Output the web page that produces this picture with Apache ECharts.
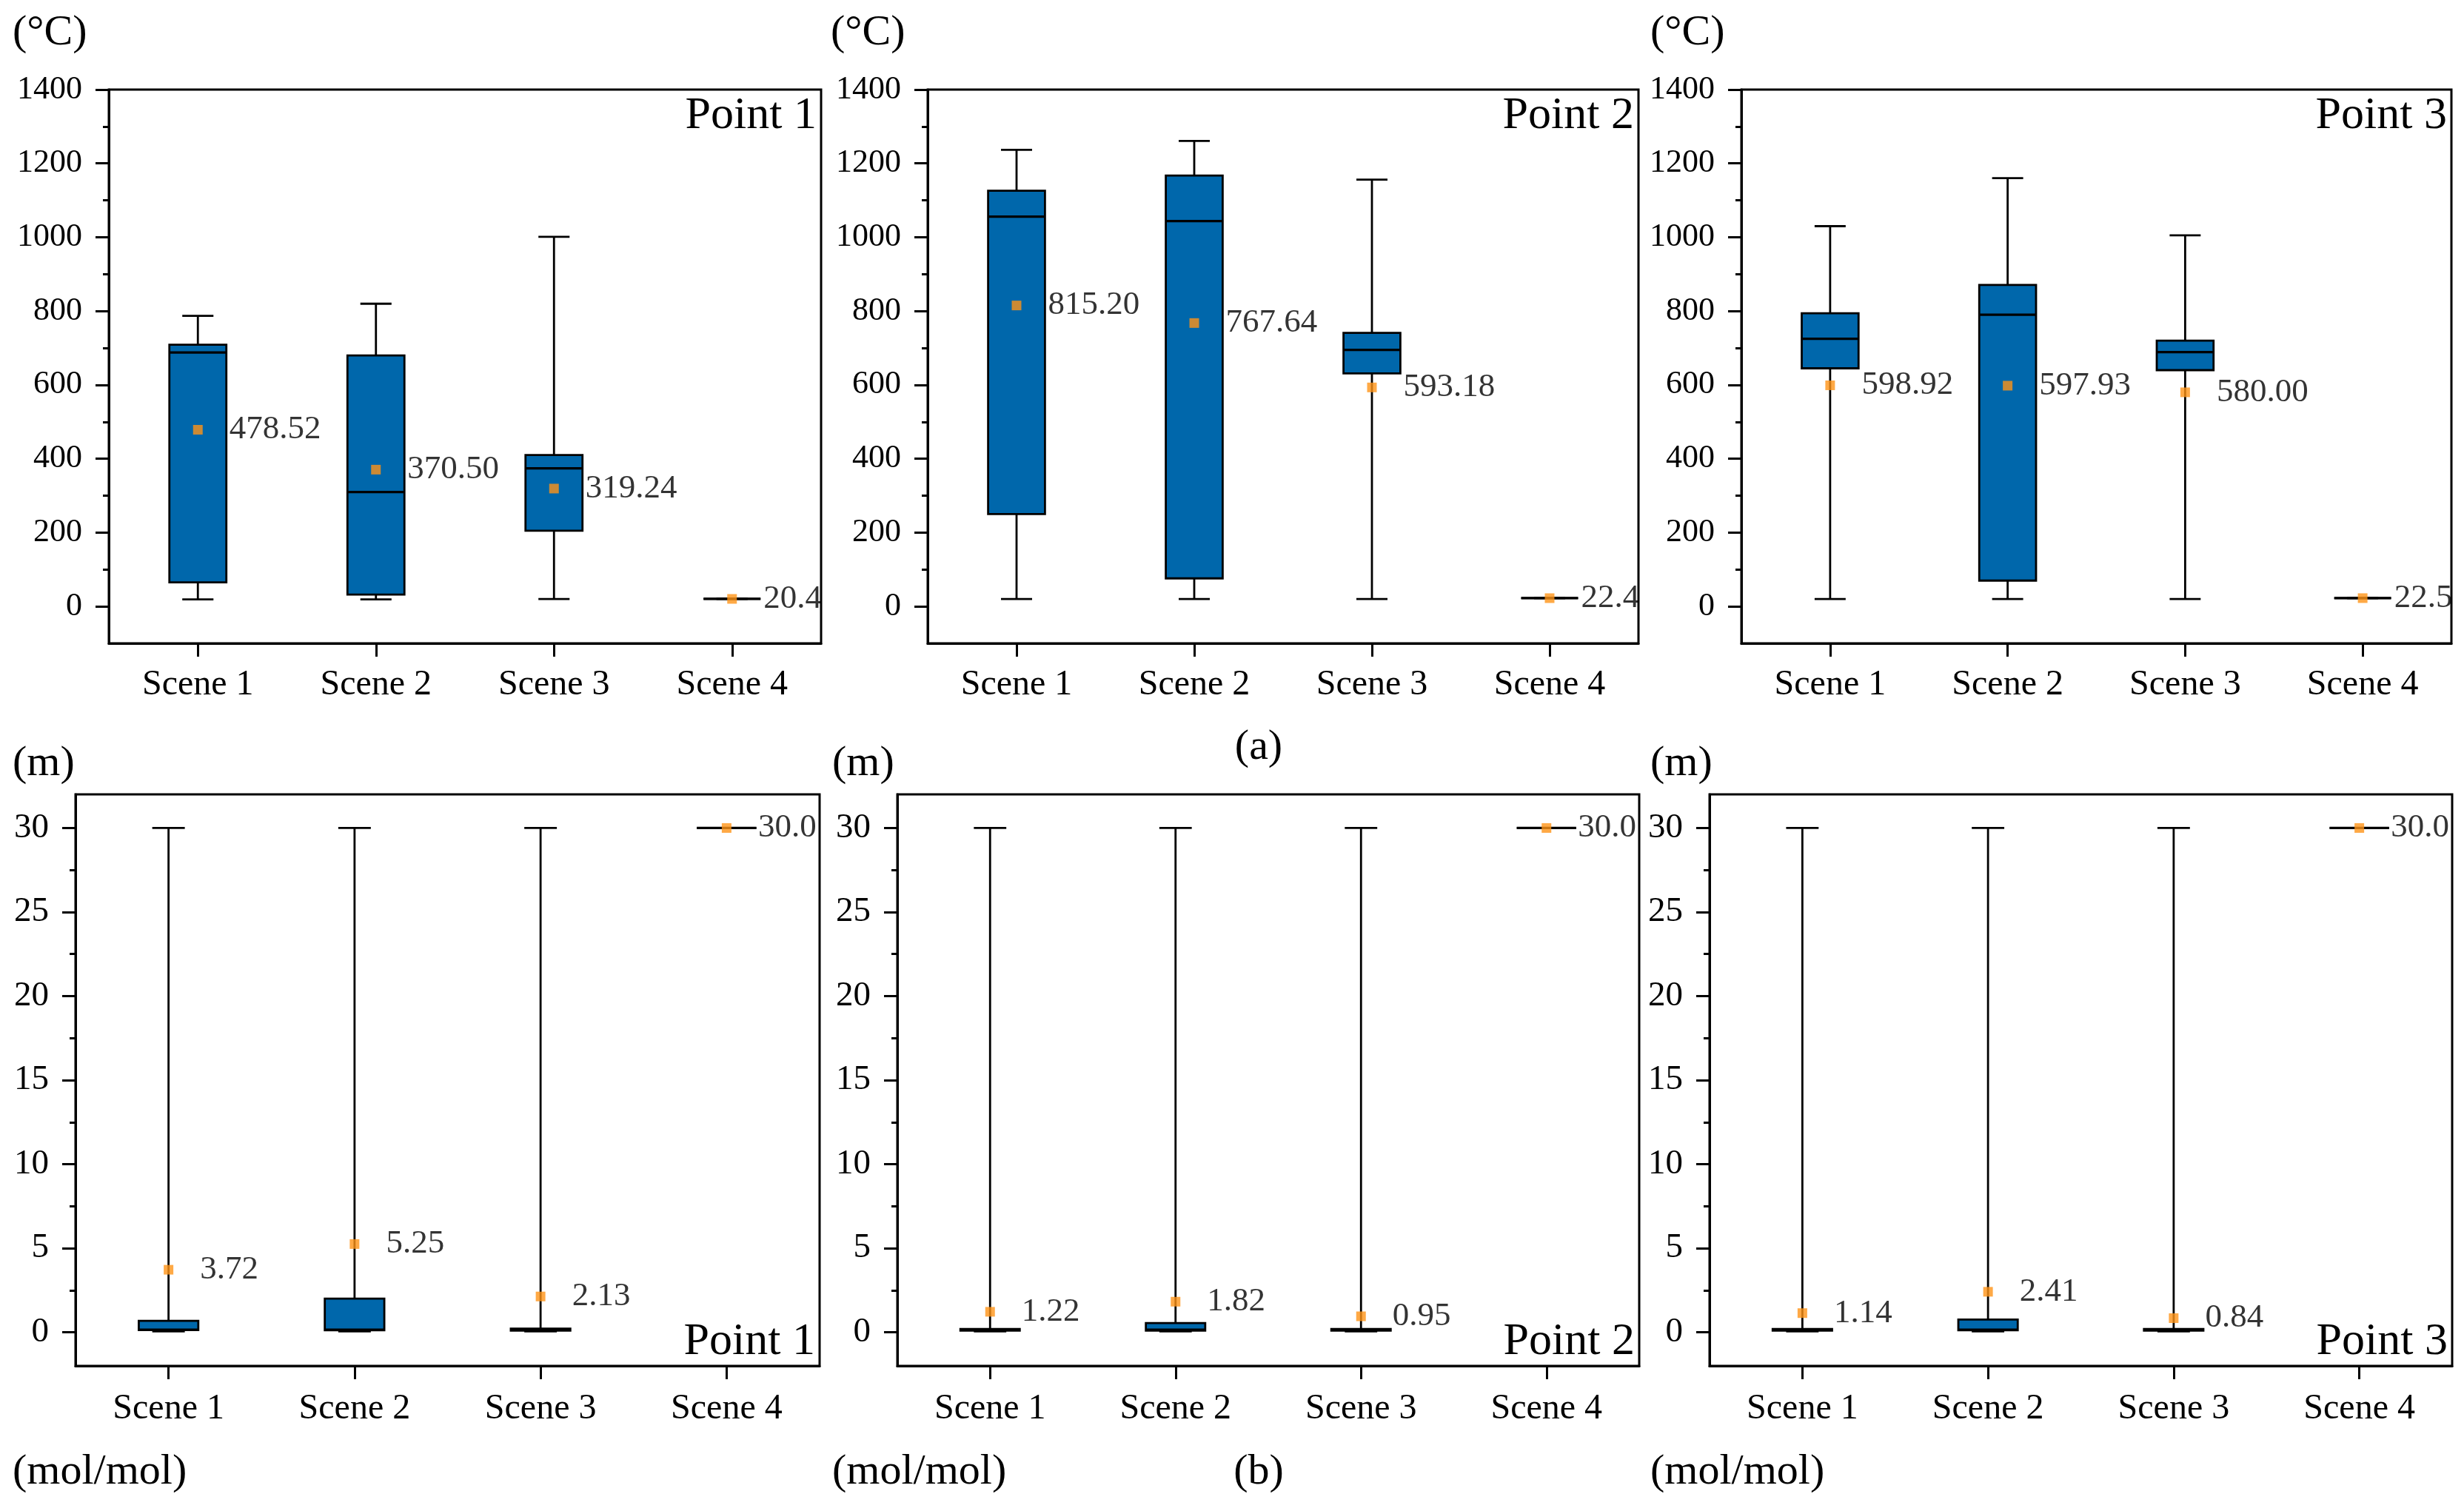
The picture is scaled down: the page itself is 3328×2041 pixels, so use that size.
<!DOCTYPE html>
<html>
<head>
<meta charset="utf-8">
<script src="https://cdn.jsdelivr.net/npm/echarts@6/dist/echarts.min.js"></script>
<style>
html,body{margin:0;padding:0;background:#fff;}
#chart{width:3328px;height:2041px;}
</style>
</head>
<body>
<div id="chart"></div>
<script>
// ---------- data ----------
const categories = ['Scene 1', 'Scene 2', 'Scene 3', 'Scene 4'];
// box entries: [low, q1, median, q3, high]
const tempPoint1 = [[19, 65, 688, 709, 787], [19, 32, 310, 680, 820], [20, 205, 374, 410, 1001], [20.4, 20.4, 20.4, 20.4, 20.4]];
const tempPoint2 = [[20, 250, 1056, 1126, 1237], [20, 76, 1044, 1167, 1261], [20, 631, 695, 741, 1156], [22.4, 22.4, 22.4, 22.4, 22.4]];
const tempPoint3 = [[20, 645, 725, 794, 1030], [20, 70, 790, 871, 1160], [20, 640, 689, 720, 1005], [22.5, 22.5, 22.5, 22.5, 22.5]];
const tempMean1 = [478.52, 370.50, 319.24, 20.4];
const tempMean2 = [815.20, 767.64, 593.18, 22.4];
const tempMean3 = [598.92, 597.93, 580.00, 22.5];

const heightPoint1 = [[0.05, 0.13, 0.15, 0.68, 30], [0.05, 0.12, 0.15, 2.0, 30], [0.05, 0.1, 0.15, 0.22, 30], [30, 30, 30, 30, 30]];
const heightPoint2 = [[0.05, 0.1, 0.15, 0.2, 30], [0.05, 0.1, 0.15, 0.55, 30], [0.05, 0.1, 0.15, 0.2, 30], [30, 30, 30, 30, 30]];
const heightPoint3 = [[0.05, 0.1, 0.15, 0.2, 30], [0.05, 0.12, 0.15, 0.76, 30], [0.05, 0.1, 0.15, 0.2, 30], [30, 30, 30, 30, 30]];
const heightMean1 = [3.72, 5.25, 2.13, 30.0];
const heightMean2 = [1.22, 1.82, 0.95, 30.0];
const heightMean3 = [1.14, 2.41, 0.84, 30.0];

const meanDecimals = [2, 2, 2, 1];

const tempMajorTicks = [0, 200, 400, 600, 800, 1000, 1200, 1400];
const tempMinorTicks = [100, 300, 500, 700, 900, 1100, 1300];
const heightMajorTicks = [0, 5, 10, 15, 20, 25, 30];
const heightMinorTicks = [2.5, 7.5, 12.5, 17.5, 22.5, 27.5];

const pointNames = ['Point 1', 'Point 2', 'Point 3'];

// ---------- style ----------
const FONT = '"Liberation Serif", "Times New Roman", Tinos, serif';
const BOX_COLOR = '#0067AB';
const MEAN_COLOR = '#FF9316';
const TXT = '#000';

const panels = [
  { box: tempPoint1, mean: tempMean1, grid: { left: 147, top: 121, width: 962, height: 748 }, min: -100, max: 1400, major: tempMajorTicks, minor: tempMinorTicks, tickFont: 44, xMargin: 32, pointY: 157, name: pointNames[0] },
  { box: tempPoint2, mean: tempMean2, grid: { left: 1253, top: 121, width: 960, height: 748 }, min: -100, max: 1400, major: tempMajorTicks, minor: tempMinorTicks, tickFont: 44, xMargin: 32, pointY: 157, name: pointNames[1] },
  { box: tempPoint3, mean: tempMean3, grid: { left: 2352, top: 121, width: 959, height: 748 }, min: -100, max: 1400, major: tempMajorTicks, minor: tempMinorTicks, tickFont: 44, xMargin: 32, pointY: 157, name: pointNames[2] },
  { box: heightPoint1, mean: heightMean1, grid: { left: 102, top: 1073, width: 1005, height: 772 }, min: -2, max: 32, major: heightMajorTicks, minor: heightMinorTicks, tickFont: 47, xMargin: 34, pointY: 1813, name: pointNames[0] },
  { box: heightPoint2, mean: heightMean2, grid: { left: 1212, top: 1073, width: 1002, height: 772 }, min: -2, max: 32, major: heightMajorTicks, minor: heightMinorTicks, tickFont: 47, xMargin: 34, pointY: 1813, name: pointNames[1] },
  { box: heightPoint3, mean: heightMean3, grid: { left: 2309, top: 1073, width: 1003, height: 772 }, min: -2, max: 32, major: heightMajorTicks, minor: heightMinorTicks, tickFont: 47, xMargin: 34, pointY: 1813, name: pointNames[2] }
];

function renderBox(params, api) {
  const x = api.value(0);
  const low = api.coord([x, api.value(1)]);
  const q1 = api.coord([x, api.value(2)]);
  const med = api.coord([x, api.value(3)]);
  const q3 = api.coord([x, api.value(4)]);
  const high = api.coord([x, api.value(5)]);
  const band = api.size([1, 0])[0];
  const bw = band * 0.32;
  const cw = band * 0.175;
  const cx = low[0];
  const lineStyle = { stroke: '#000', lineWidth: 2.8 };
  return {
    type: 'group',
    children: [
      { type: 'line', shape: { x1: cx, y1: high[1], x2: cx, y2: q3[1] }, style: lineStyle },
      { type: 'line', shape: { x1: cx - cw / 2, y1: high[1], x2: cx + cw / 2, y2: high[1] }, style: lineStyle },
      { type: 'line', shape: { x1: cx, y1: q1[1], x2: cx, y2: low[1] }, style: lineStyle },
      { type: 'line', shape: { x1: cx - cw / 2, y1: low[1], x2: cx + cw / 2, y2: low[1] }, style: lineStyle },
      { type: 'rect', shape: { x: cx - bw / 2, y: q3[1], width: bw, height: q1[1] - q3[1] }, style: { fill: BOX_COLOR, stroke: '#000', lineWidth: 2.8 } },
      { type: 'line', shape: { x1: cx - bw / 2, y1: med[1], x2: cx + bw / 2, y2: med[1] }, style: { stroke: '#000', lineWidth: 3.2 } }
    ]
  };
}

const grids = [], xAxes = [], yAxes = [], series = [], graphics = [];

panels.forEach((p, i) => {
  grids.push(Object.assign({ show: true, borderColor: '#000', borderWidth: 3, backgroundColor: 'transparent', containLabel: false }, p.grid));
  xAxes.push({
    type: 'category', gridIndex: i, data: categories,
    axisLine: { show: true, onZero: false, lineStyle: { color: '#000', width: 3 } },
    axisTick: { show: true, alignWithLabel: true, interval: 0, length: 18, lineStyle: { color: '#000', width: 3 } },
    axisLabel: { interval: 0, margin: p.xMargin, fontSize: 48, fontFamily: FONT, color: TXT },
    splitLine: { show: false }
  });
  yAxes.push({
    type: 'value', gridIndex: i, position: 'left', min: p.min, max: p.max,
    axisLine: { show: true, onZero: false, lineStyle: { color: '#000', width: 3 } },
    axisTick: { show: true, customValues: p.minor, length: 8, lineStyle: { color: '#000', width: 3 } },
    axisLabel: { show: false },
    splitLine: { show: false }
  });
  yAxes.push({
    type: 'value', gridIndex: i, position: 'left', min: p.min, max: p.max,
    axisLine: { show: false, onZero: false },
    axisTick: { show: true, customValues: p.major, length: 18, lineStyle: { color: '#000', width: 3 } },
    axisLabel: { show: true, customValues: p.major, margin: 36, fontSize: p.tickFont, fontFamily: FONT, color: TXT, formatter: (v) => String(v) },
    splitLine: { show: false }
  });
  series.push({
    type: 'custom', xAxisIndex: i, yAxisIndex: 2 * i,
    renderItem: renderBox,
    encode: { x: 0, y: [1, 2, 3, 4, 5] },
    data: p.box.map((b, k) => [k].concat(b)),
    z: 2
  });
  series.push({
    type: 'scatter', xAxisIndex: i, yAxisIndex: 2 * i,
    symbol: 'rect', symbolSize: 13,
    itemStyle: { color: MEAN_COLOR },
    data: p.mean.map((m, k) => [k, m]),
    label: {
      show: true, position: 'right', distance: 36,
      formatter: (q) => q.value[1].toFixed(meanDecimals[q.dataIndex]),
      fontSize: 45, fontFamily: FONT, color: TXT
    },
    z: 5
  });
  graphics.push({
    type: 'text', x: p.grid.left + p.grid.width - 6, y: p.pointY, z: 10,
    style: { text: p.name, fontSize: 62, fontFamily: FONT, fill: TXT, align: 'right', verticalAlign: 'middle' }
  });
});

const unitTexts = [
  { t: '(°C)', x: 17, y: 45 }, { t: '(°C)', x: 1122, y: 45 }, { t: '(°C)', x: 2229, y: 45 },
  { t: '(m)', x: 17, y: 1032 }, { t: '(m)', x: 1124, y: 1032 }, { t: '(m)', x: 2229, y: 1032 },
  { t: '(mol/mol)', x: 17, y: 1989 }, { t: '(mol/mol)', x: 1124, y: 1989 }, { t: '(mol/mol)', x: 2229, y: 1989 }
];
unitTexts.forEach(u => graphics.push({
  type: 'text', x: u.x, y: u.y, style: { text: u.t, fontSize: 58, fontFamily: FONT, fill: TXT, align: 'left', verticalAlign: 'middle' }
}));
graphics.push({ type: 'text', x: 1700, y: 1010, style: { text: '(a)', fontSize: 58, fontFamily: FONT, fill: TXT, align: 'center', verticalAlign: 'middle' } });
graphics.push({ type: 'text', x: 1700, y: 1989, style: { text: '(b)', fontSize: 58, fontFamily: FONT, fill: TXT, align: 'center', verticalAlign: 'middle' } });

const chart = echarts.init(document.getElementById('chart'), null, { renderer: 'canvas' });
chart.setOption({
  animation: false,
  backgroundColor: '#fff',
  grid: grids,
  xAxis: xAxes,
  yAxis: yAxes,
  series: series,
  graphic: graphics
});
</script>
</body>
</html>
